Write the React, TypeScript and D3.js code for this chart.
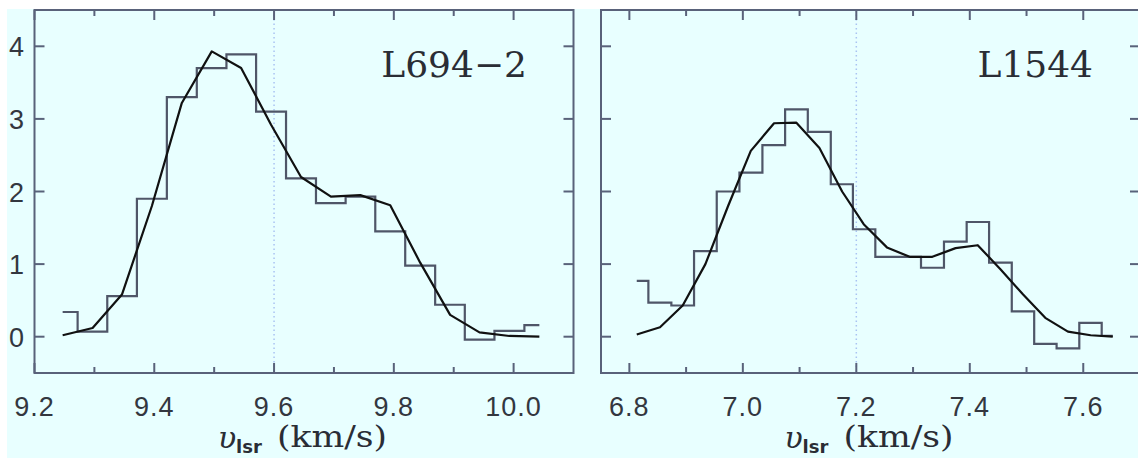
import React from 'react';
import * as d3 from 'd3';

const W = 1138;
const H = 458;

// Shared y axis
const Y_DOMAIN = [-0.5, 4.5];
const Y_TICKS = [0, 1, 2, 3, 4];

// L694-2
const L694_V = [9.247, 9.297, 9.346, 9.396, 9.446, 9.496, 9.545, 9.595, 9.645, 9.695, 9.744, 9.794, 9.844, 9.894, 9.943, 9.993, 10.043];
const L694_OBS = [0.34, 0.07, 0.56, 1.9, 3.3, 3.7, 3.89, 3.1, 2.18, 1.84, 1.93, 1.45, 0.98, 0.44, -0.04, 0.08, 0.16];
const L694_MODEL = [0.02, 0.12, 0.58, 1.8, 3.22, 3.93, 3.7, 2.92, 2.2, 1.93, 1.95, 1.81, 1.02, 0.3, 0.06, 0.01, 0.0];
const L694_XMAJOR = [9.2, 9.4, 9.6, 9.8, 10.0];
const L694_XMINOR = [9.3, 9.5, 9.7, 9.9];

// L1544
const L1544_V = [6.813, 6.854, 6.894, 6.934, 6.974, 7.014, 7.055, 7.094, 7.135, 7.175, 7.213, 7.254, 7.294, 7.334, 7.375, 7.414, 7.454, 7.494, 7.533, 7.573, 7.613, 7.652];
const L1544_OBS = [0.77, 0.47, 0.43, 1.18, 2.0, 2.26, 2.64, 3.13, 2.82, 2.1, 1.48, 1.1, 1.1, 0.95, 1.31, 1.58, 1.02, 0.35, -0.1, -0.16, 0.19, 0.01];
const L1544_MODEL = [0.03, 0.13, 0.43, 1.0, 1.8, 2.56, 2.94, 2.95, 2.6, 2.0, 1.55, 1.23, 1.1, 1.1, 1.22, 1.26, 0.93, 0.58, 0.26, 0.07, 0.02, 0.0];
const L1544_XMAJOR = [6.8, 7.0, 7.2, 7.4, 7.6];
const L1544_XMINOR = [6.9, 7.1, 7.3, 7.5];

const AXIS = '#59627a';
const HIST = '#4f5668';
const MODEL = '#111111';
const DOT = '#a9c3f2';
const BG = '#e8ffff';
const TEXT = '#33373f';

const TOP = 10;
const BOTTOM = 373;
const SANS = 'Liberation Sans, Arial, sans-serif';
const SERIF = 'DejaVu Serif, serif';

type PanelProps = {
  x0: number; x1: number; xDomain: number[];
  v: number[]; obs: number[]; model: number[];
  majors: number[]; minors: number[];
  label: string; labelX: number; dotAt: number; showYLabels: boolean;
};

function Panel(p: PanelProps) {
  const x = d3.scaleLinear().domain(p.xDomain).range([p.x0, p.x1]);
  const y = d3.scaleLinear().domain(Y_DOMAIN).range([BOTTOM, TOP]);
  const step = d3.line<number>().x((_, i) => x(p.v[i])).y(d => y(d)).curve(d3.curveStep);
  const lin = d3.line<number>().x((_, i) => x(p.v[i])).y(d => y(d)).curve(d3.curveLinear);
  const fmt = d3.format('.1f');
  const cx = (p.x0 + p.x1) / 2;
  return (
    <g>
      <line x1={x(p.dotAt)} x2={x(p.dotAt)} y1={TOP} y2={BOTTOM} stroke={DOT} strokeWidth={1.5} strokeDasharray="1.5,3" />
      <path d={step(p.obs) || ''} fill="none" stroke={HIST} strokeWidth={2.2} />
      <path d={lin(p.model) || ''} fill="none" stroke={MODEL} strokeWidth={2.2} strokeLinejoin="round" />
      <rect x={p.x0} y={TOP} width={p.x1 - p.x0} height={BOTTOM - TOP} fill="none" stroke={AXIS} strokeWidth={2} />
      {p.majors.map(t => (
        <g key={'M' + t}>
          <line x1={x(t)} x2={x(t)} y1={BOTTOM} y2={BOTTOM - 10} stroke={AXIS} strokeWidth={2} />
          <line x1={x(t)} x2={x(t)} y1={TOP} y2={TOP + 10} stroke={AXIS} strokeWidth={2} />
          <text x={x(t)} y={416} textAnchor="middle" fontFamily={SANS} fontSize={27} letterSpacing={1} fill={TEXT}>{fmt(t)}</text>
        </g>
      ))}
      {p.minors.map(t => (
        <g key={'m' + t}>
          <line x1={x(t)} x2={x(t)} y1={BOTTOM} y2={BOTTOM - 6} stroke={AXIS} strokeWidth={2} />
          <line x1={x(t)} x2={x(t)} y1={TOP} y2={TOP + 6} stroke={AXIS} strokeWidth={2} />
        </g>
      ))}
      {Y_TICKS.map(t => (
        <g key={'y' + t}>
          <line x1={p.x0} x2={p.x0 + 10} y1={y(t)} y2={y(t)} stroke={AXIS} strokeWidth={2} />
          <line x1={p.x1} x2={p.x1 - 10} y1={y(t)} y2={y(t)} stroke={AXIS} strokeWidth={2} />
          {p.showYLabels && (
            <text x={24} y={y(t) + 10} textAnchor="end" fontFamily={SANS} fontSize={27} fill={TEXT}>{t}</text>
          )}
        </g>
      ))}
      <text x={p.labelX} y={77} textAnchor="end" fontFamily={SERIF} fontSize={36} fill="#2a2d35">{p.label}</text>
      <text x={cx - 86} y={448} fontFamily={SERIF} fontStyle="italic" fontSize={30} fill="#2a2d35">υ</text>
      <text x={cx - 68} y={453} fontFamily="DejaVu Sans, sans-serif" fontWeight="bold" fontSize={18} fill="#2a2d35">lsr</text>
      <text x={cx - 27} y={447} fontFamily={SERIF} fontSize={29} textLength={110} lengthAdjust="spacingAndGlyphs" fill="#2a2d35">(km/s)</text>
    </g>
  );
}

export default function App() {
  return (
    <svg width={W} height={H} style={{ position: 'absolute', left: 0, top: 0, display: 'block' }}>
      <rect x={0} y={0} width={W} height={H} fill="#ffffff" />
      <rect x={7} y={9} width={W - 7} height={H - 9} fill={BG} />
      <Panel x0={34.5} x1={573.5} xDomain={[9.2, 10.1]} v={L694_V} obs={L694_OBS} model={L694_MODEL}
        majors={L694_XMAJOR} minors={L694_XMINOR} label={'L694\u22122'} labelX={527} dotAt={9.6} showYLabels={true} />
      <Panel x0={601} x1={1140} xDomain={[6.75, 7.7]} v={L1544_V} obs={L1544_OBS} model={L1544_MODEL}
        majors={L1544_XMAJOR} minors={L1544_XMINOR} label="L1544" labelX={1093} dotAt={7.2} showYLabels={false} />
    </svg>
  );
}
